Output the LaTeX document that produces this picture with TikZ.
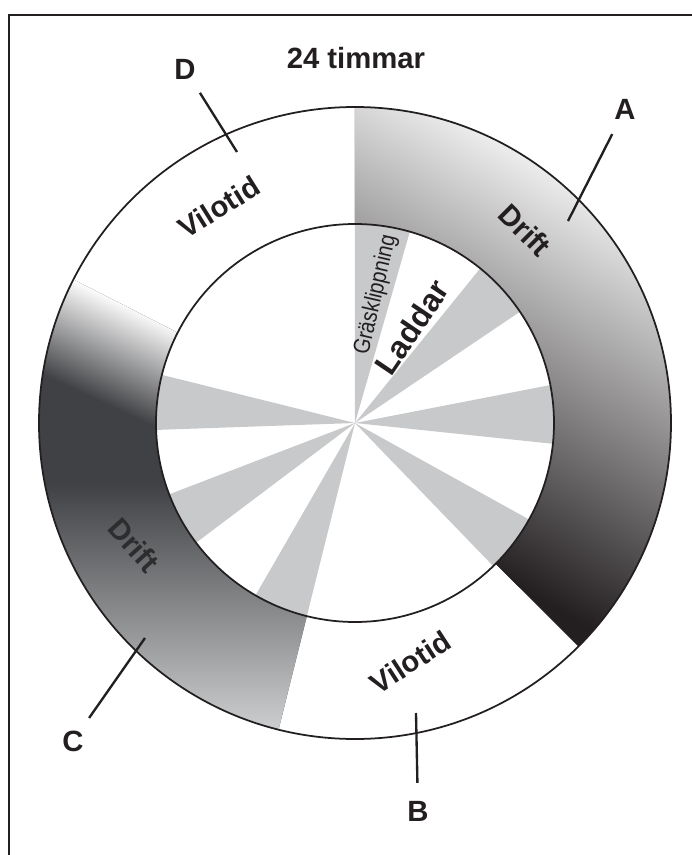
\documentclass[tikz,border=0pt]{standalone}
\usepackage{fontspec}
\setmainfont{Liberation Sans}
\newfontfamily\narrowsans[FakeStretch=0.85]{Liberation Sans}

\definecolor{ink}{HTML}{231F20}
\definecolor{spoke}{HTML}{C8C9CB}
\definecolor{driftlight}{HTML}{EEEEEF}
\definecolor{driftdark}{HTML}{404144}
\definecolor{driftmid}{HTML}{76777B}
\definecolor{driftpale}{HTML}{DADBDC}

\begin{document}
\begin{tikzpicture}[x=0.03cm, y=0.03cm,
    ring/.style={draw=ink, line width=1.5pt},
    spokewedge/.style={fill=spoke},
    biglabel/.style={text=ink, font=\fontsize{25}{30}\selectfont\bfseries, inner sep=0pt},
    smalllabel/.style={text=ink, font=\narrowsans\fontsize{20}{24}\selectfont, inner sep=0pt},
    leader/.style={draw=ink, line width=2pt, shorten <=24pt},
    frameline/.style={draw=ink, line width=1.1pt}
  ]
  \useasboundingbox (-355,-432) rectangle (337,423);
  \draw[frameline] (337,408) -- (-346,408) -- (-346,-432);

  % inner clock: grey spokes
  \foreach \a/\b in {74/90, 34/51, -6/11, -46/-29, -120/-104, -159/-143, 166/182}
    \fill[spokewedge] (0,0) -- (\a:199) arc[start angle=\a, end angle=\b, radius=199] -- cycle;

  % Drift A (light top right -> black bottom)
  \begin{scope}
    \clip (90:316) arc[start angle=90, end angle=-45, radius=316]
      -- (-45:199) arc[start angle=-45, end angle=90, radius=199] -- cycle;
    \fill[ink] (-400,-400) rectangle (400,400);
    \begin{scope}[transform canvas={rotate=-30}]
      \shade[bottom color=ink, top color=driftlight] (-450,-60) rectangle (450,318);
    \end{scope}
  \end{scope}

  % Drift C (white fade at top, dark band, lighter at bottom)
  \begin{scope}
    \clip (153:316) arc[start angle=153, end angle=256, radius=316]
      -- (256:199) arc[start angle=256, end angle=153, radius=199] -- cycle;
    \fill[driftdark] (-400,-400) rectangle (400,400);
    \begin{scope}[transform canvas={rotate=-25}]
      \shade[bottom color=driftdark, top color=white] (-450,-88) rectangle (450,12);
    \end{scope}
    \shade[top color=driftdark, middle color=driftmid, bottom color=driftpale] (-400,-330) rectangle (0,-60);
  \end{scope}

  \draw[ring] (0,0) circle[radius=316];
  \draw[ring] (0,0) circle[radius=199];

  \node[biglabel, anchor=base] (title) at (1,355) {24 timmar};

  \node[biglabel, rotate=-45] (driftA) at (170,193) {Drift};
  \node[biglabel, rotate=33] (viloB) at (55,-239) {Vilotid};
  \node[biglabel, rotate=-48, text=driftdark!70!black] (driftC) at (-221,-122) {Drift};
  \node[biglabel, rotate=32] (viloD) at (-136,216) {Vilotid};
  \node[smalllabel, rotate=77] (grass) at (21,128) {Gräsklippning};
  \node[biglabel, rotate=56, font=\fontsize{27}{32}\selectfont\bfseries] (charge) at (57,96) {Laddar};

  \node[biglabel] (labA) at (270,314) {A};
  \node[biglabel] (labB) at (63,-388) {B};
  \node[biglabel] (labC) at (-282,-318) {C};
  \node[biglabel] (labD) at (-170,354) {D};
  \coordinate (tipA) at (213,202);
  \coordinate (tipB) at (61,-290);
  \coordinate (tipC) at (-210,-215);
  \coordinate (tipD) at (-118,271);
  \foreach \l in {A,B,C,D}
    \draw[leader] (lab\l.center) -- (tip\l);
\end{tikzpicture}
\end{document}
